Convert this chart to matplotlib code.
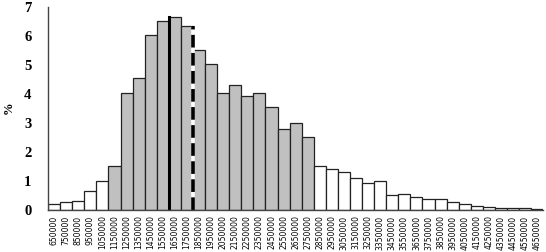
import matplotlib

matplotlib.use("Agg")

import matplotlib.pyplot as plt
import numpy as np

# bin labels (income classes) and share of households in %
bins = [str(v) for v in range(650000, 4650001, 100000)]
share = [0.20, 0.28, 0.31, 0.65, 1.00, 1.52, 4.02, 4.53, 6.03, 6.50,
         6.63, 6.32, 5.52, 5.02, 4.02, 4.30, 3.91, 4.01, 3.53, 2.80,
         3.00, 2.50, 1.52, 1.41, 1.30, 1.11, 0.92, 1.00, 0.51, 0.55,
         0.46, 0.36, 0.39, 0.27, 0.20, 0.15, 0.11, 0.08, 0.06, 0.06,
         0.04]
# shaded range of classes
shade_from = "1150000"
shade_to = "2750000"
# reference lines: solid at median, dashed at mean (bin boundaries)
median_after = "1550000"
mean_after = "1750000"

x = np.arange(len(bins))
i0, i1 = bins.index(shade_from), bins.index(shade_to)
colors = ["#c0c0c0" if i0 <= i <= i1 else "white" for i in range(len(bins))]

fig = plt.figure(figsize=(5.46, 2.52), dpi=100)
ax = fig.add_axes([0.088, 0.167, 0.907, 0.807])
ax.bar(x, share, width=1.0, color=colors, edgecolor="#222222", linewidth=0.9)

im = bins.index(median_after)
ax.plot([im + 0.5, im + 0.5], [0, share[im + 1]], color="black", linewidth=2.2)
ia = bins.index(mean_after)
# dashed line with white gaps
ax.plot([ia + 0.5, ia + 0.5], [0, share[ia]], color="white", linewidth=2.6,
        solid_capstyle="butt")
ax.plot([ia + 0.5, ia + 0.5], [0, share[ia]], color="black", linewidth=2.6,
        linestyle=(0, (3.5, 1.5)), dash_capstyle="butt")

ax.set_xlim(-0.5, len(bins) - 0.5)
ax.set_ylim(0, 7)
ax.set_yticks(range(0, 8))
ax.set_yticklabels([str(v) for v in range(0, 8)], family="Liberation Serif",
                   fontweight="bold", fontsize=10.5)
ax.set_xticks(x)
ax.set_xticklabels(bins, rotation=90, fontsize=5.5,
                   family=["Liberation Sans Narrow", "DejaVu Sans"])
ax.tick_params(axis="both", length=0, pad=4)
ax.tick_params(axis="y", pad=12)
for side in ("top", "right"):
    ax.spines[side].set_visible(False)
for side in ("left", "bottom"):
    ax.spines[side].set_color("#444444")
    ax.spines[side].set_linewidth(1.0)
ax.set_ylabel("%", family="Liberation Serif", fontweight="bold", fontsize=9)
ax.yaxis.set_label_coords(-0.068, 0.5)

fig.savefig("out.png", dpi=100)
